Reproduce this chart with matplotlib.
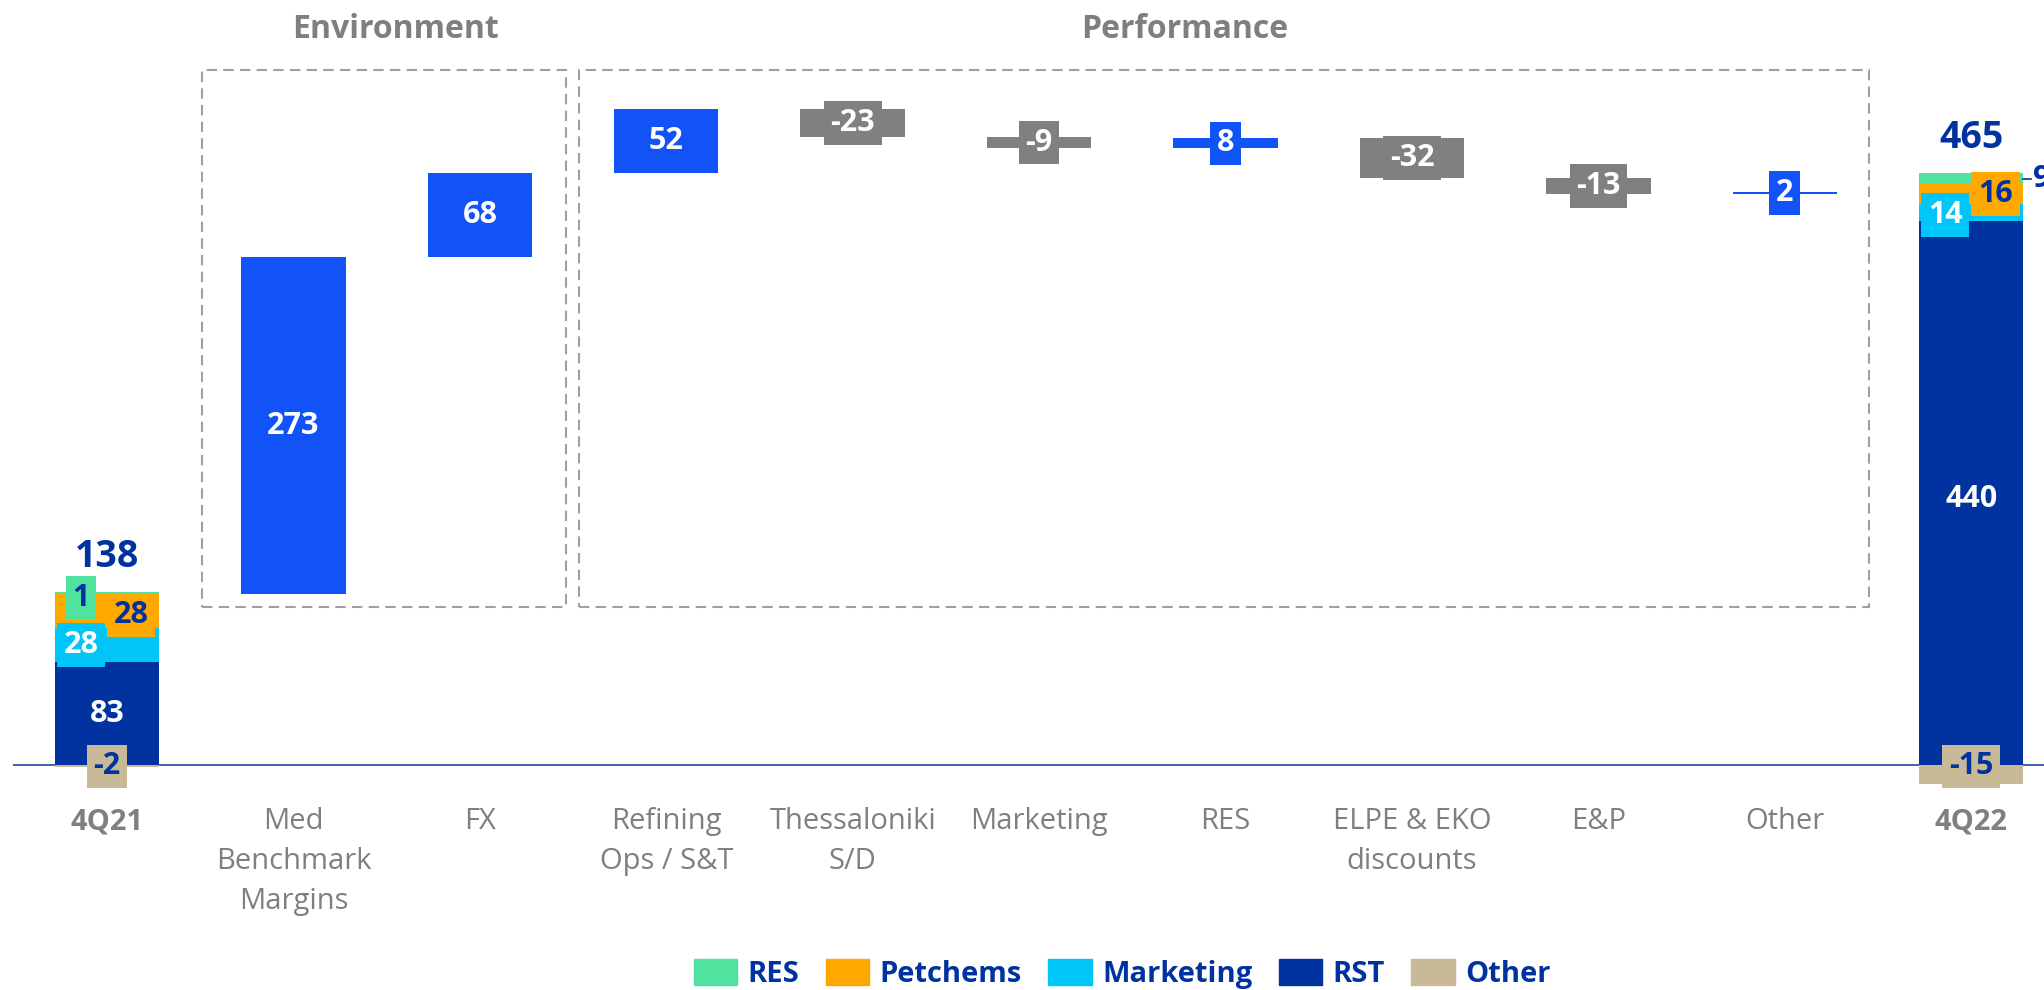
import matplotlib
matplotlib.use("Agg")
import matplotlib.pyplot as plt
from matplotlib.patches import Patch, Rectangle

plt.rcParams["font.family"] = ["Open Sans", "DejaVu Sans"]

# data
seg_names = ["RST", "Marketing", "Petchems", "RES", "Other"]
seg_4q21 = [83, 28, 28, 1, -2]
seg_4q22 = [440, 14, 16, 9, -15]
total_4q21 = 138
total_4q22 = 465
end_labels = ["4Q21", "4Q22"]

step_labels = ["Med\nBenchmark\nMargins", "FX", "Refining\nOps / S&T", "Thessaloniki\nS/D",
               "Marketing", "RES", "ELPE & EKO\ndiscounts", "E&P", "Other"]
step_values = [273, 68, 52, -23, -9, 8, -32, -13, 2]

group_titles = ["Environment", "Performance"]

# colours
seg_colors = {"RES": "#50E3A0", "Petchems": "#FFA800", "Marketing": "#00C5F7",
              "RST": "#0033A0", "Other": "#C8B997"}
seg_text = {"RES": "#0033A0", "Petchems": "#0033A0", "Marketing": "white",
            "RST": "white", "Other": "#0033A0"}
UP = "#1153F7"
DOWN = "#808080"
BLUE_TXT = "#0033A0"
GREY = "#7F7F7F"
W = 0.56
FS = 21

fig = plt.figure(figsize=(20.44, 9.9), dpi=100)
ax = fig.add_axes([13 / 2044, 1 - 800 / 990, 1 - 13 / 2044, 800 / 990])
ax.set_xlim(-0.504, 10.39)
ax.set_ylim(-28.3, 619)
ax.axis("off")

ax.axhline(0, color="#3355AA", lw=1.3, zorder=1)


def label(x, y, s, color, box=None, size=22):
    kw = {}
    if box is not None:
        kw["bbox"] = dict(boxstyle="square,pad=0.22", fc=box, ec="none")
    ax.text(x, y, s, ha="center", va="center", color=color, fontsize=size,
            fontweight="bold", zorder=5, **kw)


# stacked end bars
# side offsets of the segment labels (style only)
offsets_4q21 = {"RST": (0, 0), "Marketing": (-0.14, 0), "Petchems": (0.13, -4), "RES": (-0.14, -4)}
offsets_4q22 = {"RST": (0, -5), "Marketing": (-0.14, -2), "Petchems": (0.13, 0), "RES": None}

for x, vals, total, offs in [(0, seg_4q21, total_4q21, offsets_4q21),
                             (10, seg_4q22, total_4q22, offsets_4q22)]:
    bottom = 0
    for name, v in zip(seg_names, vals):
        c = seg_colors[name]
        if v >= 0:
            ax.bar(x, v, bottom=bottom, width=W, color=c, zorder=2)
            mid = bottom + v / 2
            off = offs[name]
            if off is None:
                ax.plot([x + W / 2, x + W / 2 + 0.04], [mid, mid], color=BLUE_TXT, lw=1.2,
                        clip_on=False)
                ax.text(x + W / 2 + 0.05, mid, str(v), ha="left", va="center", color=BLUE_TXT,
                        fontsize=22, fontweight="bold", clip_on=False)
            else:
                box = None if name == "RST" else c
                label(x + off[0], mid + off[1], str(v), seg_text[name], box)
            bottom += v
        else:
            ax.bar(x, v, bottom=0, width=W, color=c, zorder=2)
            label(x, -1, str(v), seg_text[name], c)
    ax.text(x, bottom + 28, str(total), ha="center", va="center", color=BLUE_TXT,
            fontsize=27, fontweight="bold")

# waterfall steps
running = total_4q21
for i, v in enumerate(step_values):
    x = i + 1
    c = UP if v > 0 else DOWN
    ax.bar(x, v, bottom=running, width=W, color=c, zorder=2)
    label(x, running + v / 2, str(v), "white", c)
    running += v

# group boxes
box_style = dict(fill=False, ec="#A0A0A0", lw=1.5, ls=(0, (5, 3)), zorder=0)
ax.add_patch(Rectangle((0.51, 128), 1.95, 434, **box_style))
ax.add_patch(Rectangle((2.53, 128), 6.92, 434, **box_style))
ax.text(1.545, 595, group_titles[0], ha="center", va="center", color=GREY,
        fontsize=23, fontweight="bold")
ax.text(5.78, 595, group_titles[1], ha="center", va="center", color=GREY,
        fontsize=23, fontweight="bold")

# category labels
cats = [end_labels[0]] + step_labels + [end_labels[1]]
for i, s in enumerate(cats):
    bold = s in end_labels
    ax.text(i, -34, s, ha="center", va="top", color=GREY, fontsize=FS,
            fontweight="bold" if bold else "normal", linespacing=1.5,
            multialignment="center")

# legend
legend_order = ["RES", "Petchems", "Marketing", "RST", "Other"]
handles = [Patch(color=seg_colors[n]) for n in legend_order]
fig.legend(handles, legend_order, loc="center", bbox_to_anchor=(0.549, 1 - 974 / 990),
           ncol=5, frameon=False, prop=dict(weight="bold", size=FS), labelcolor=BLUE_TXT,
           handlelength=1.5, handleheight=1.0, handletextpad=0.35, columnspacing=0.9)

fig.savefig("out.png", dpi=100)
